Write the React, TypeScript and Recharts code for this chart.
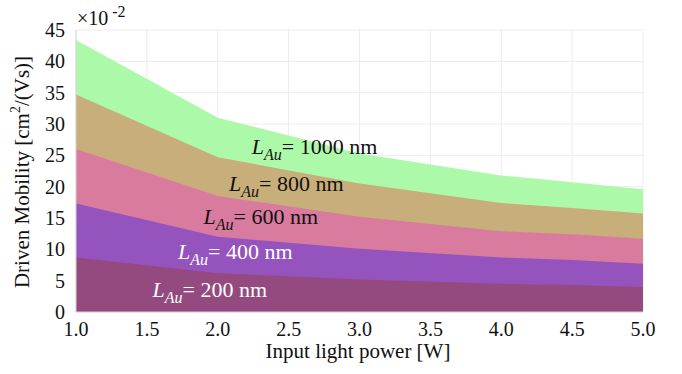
import React from 'react';
import {
  ComposedChart,
  Area,
  XAxis,
  YAxis,
  CartesianGrid,
  ReferenceDot,
} from 'recharts';

// input light power [W]
const power = [1, 2, 3, 4, 4.5, 5];

// driven mobility (x10^-2 cm^2/(Vs)) for each gold length
const mob200 = [8.7, 6.2, 5.2, 4.5, 4.3, 4.0];
const mob400 = [17.3, 12.0, 10.1, 8.7, 8.3, 7.7];
const mob600 = [26.0, 18.5, 15.2, 12.9, 12.4, 11.7];
const mob800 = [34.7, 24.7, 20.5, 17.4, 16.6, 15.7];
const mob1000 = [43.4, 31.0, 25.3, 21.8, 20.7, 19.6];

const xTicks = [1, 1.5, 2, 2.5, 3, 3.5, 4, 4.5, 5];
const yTicks = [0, 5, 10, 15, 20, 25, 30, 35, 40, 45];

const lengths = ['1000', '800', '600', '400', '200'];
// where each label sits, in data units (left edge, baseline)
const labelX = [2.24, 2.08, 1.9, 1.72, 1.54];
const labelY = [25.2, 19.3, 14.0, 8.4, 2.4];

const fills = ['#adf9aa', '#c8ae7b', '#d97a9f', '#9553be', '#944a7e'];
const textColors = ['#111', '#111', '#111', '#fff', '#fff'];

const data = power.map((p, i) => ({
  p,
  m200: mob200[i],
  m400: mob400[i],
  m600: mob600[i],
  m800: mob800[i],
  m1000: mob1000[i],
}));

const keys = ['m1000', 'm800', 'm600', 'm400', 'm200'];
const FONT = 'Liberation Serif';

function LauLabel(props: any) {
  const { viewBox, idx } = props;
  const x = viewBox.x;
  const y = viewBox.y;
  return (
    <text x={x} y={y} fontFamily={FONT} fontSize={22} fill={textColors[idx]}>
      <tspan fontStyle="italic">L</tspan>
      <tspan fontStyle="italic" fontSize={16} dy={6}>Au</tspan>
      <tspan dy={-6}>{`= ${lengths[idx]} nm`}</tspan>
    </text>
  );
}

function XTick(props: any) {
  const { x, y, payload } = props;
  return (
    <text x={x} y={y + 24} textAnchor="middle" fontFamily={FONT} fontSize={20} fill="#111">
      {Number(payload.value).toFixed(1)}
    </text>
  );
}

function YTick(props: any) {
  const { x, y, payload } = props;
  return (
    <text x={x - 11} y={y + 7} textAnchor="end" fontFamily={FONT} fontSize={20} fill="#111">
      {payload.value}
    </text>
  );
}

export default function App() {
  return (
    <div
      style={{
        position: 'absolute',
        left: 0,
        top: 0,
        width: 682,
        height: 374,
        background: '#fff',
        fontFamily: FONT,
      }}
    >
      <ComposedChart
        width={682}
        height={374}
        data={data}
        margin={{ top: 30, right: 39, left: 0, bottom: 0 }}
      >
        <CartesianGrid stroke="#ececec" horizontal vertical />
        <XAxis
          dataKey="p"
          type="number"
          domain={[1, 5]}
          ticks={xTicks}
          height={62}
          stroke="#d4d4d4"
          tickLine={false}
          tickSize={0}
          tickMargin={0}
          tick={<XTick />}
        />
        <XAxis
          xAxisId="top"
          orientation="top"
          dataKey="p"
          type="number"
          domain={[1, 5]}
          ticks={xTicks}
          height={0}
          stroke="#d4d4d4"
          tick={false}
          tickLine={false}
        />
        <YAxis
          type="number"
          domain={[0, 45]}
          ticks={yTicks}
          width={76}
          stroke="#d4d4d4"
          tickLine={false}
          tickSize={0}
          tickMargin={0}
          tick={<YTick />}
        />
        <YAxis
          yAxisId="right"
          orientation="right"
          type="number"
          domain={[0, 45]}
          width={0}
          stroke="#d4d4d4"
          tick={false}
          tickLine={false}
        />
        {keys.map((k, i) => (
          <Area
            key={k}
            type="linear"
            dataKey={k}
            stroke="none"
            fill={fills[i]}
            fillOpacity={1}
            isAnimationActive={false}
            dot={false}
            activeDot={false}
          />
        ))}
        {lengths.map((l, i) => (
          <ReferenceDot
            key={l}
            x={labelX[i]}
            y={labelY[i]}
            r={0}
            stroke="none"
            fill="none"
            label={<LauLabel idx={i} />}
          />
        ))}
      </ComposedChart>
      <svg
        width={682}
        height={374}
        style={{ position: 'absolute', left: 0, top: 0, pointerEvents: 'none' }}
      >
        <text x={77} y={25} fontFamily={FONT} fontSize={20} fill="#111">
          ×10
          <tspan fontSize={16} dy={-8}> -2</tspan>
        </text>
        <text
          x={0}
          y={0}
          transform="translate(29,172) rotate(-90)"
          textAnchor="middle"
          fontFamily={FONT}
          fontSize={21}
          fill="#111"
        >
          Driven Mobility [cm
          <tspan fontSize={14} dy={-9}>2</tspan>
          <tspan dy={9}>/(Vs)]</tspan>
        </text>
        <text x={358} y={358} textAnchor="middle" fontFamily={FONT} fontSize={21} fill="#111">
          Input light power [W]
        </text>
      </svg>
    </div>
  );
}
